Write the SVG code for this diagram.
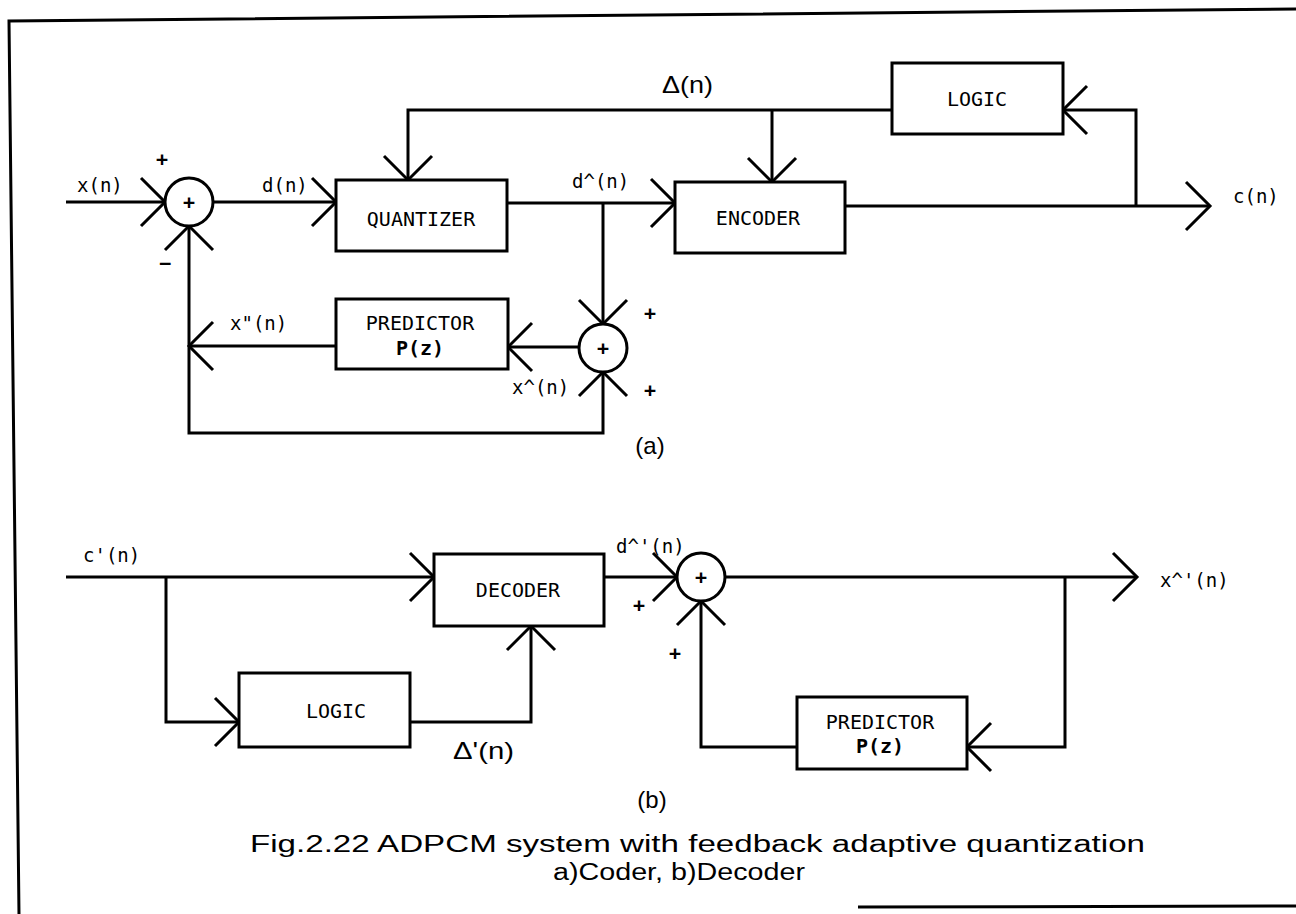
<svg xmlns="http://www.w3.org/2000/svg" width="1296" height="914" viewBox="0 0 1296 914">
<defs>
<marker id="arr" markerUnits="userSpaceOnUse" markerWidth="60" markerHeight="60" viewBox="-30 -30 60 60" refX="0" refY="0" orient="auto" overflow="visible">
<path d="M-24,-24 L0,0 L-24,24" fill="none" stroke="#000" stroke-width="3"/>
</marker>
<style>
.ln{fill:none;stroke:#000;stroke-width:3;marker-end:url(#arr)}
.pl{fill:none;stroke:#000;stroke-width:3}
.box{fill:#fff;stroke:#000;stroke-width:3}
.bl{font-family:"DejaVu Sans Mono","Liberation Mono",monospace;font-size:20px;text-anchor:middle;fill:#000}
.pz{font-family:"DejaVu Sans Mono","Liberation Mono",monospace;font-size:20px;font-weight:bold;text-anchor:middle;fill:#000}
.sl{font-family:"DejaVu Sans Mono","Liberation Mono",monospace;font-size:19px;fill:#000}
.sg{font-family:"DejaVu Sans Mono","Liberation Mono",monospace;font-size:20px;font-weight:bold;text-anchor:middle;fill:#000}
.gk{font-family:"Liberation Sans",Arial,sans-serif;font-size:24px;fill:#000}
.cap{font-family:"Liberation Sans",Arial,sans-serif;font-size:23px;fill:#000}
</style>
</defs>
<rect width="1296" height="914" fill="#fff"/>
<g id="frame">
<path class="pl" d="M1296,9 L9,21 L19,914"/>
<path class="pl" d="M858,907 L1296,906" stroke-width="2"/>
</g>
<g id="connectors">
<path class="ln" d="M66,202 H165"/>
<path class="ln" d="M213,202 H336"/>
<path class="ln" d="M507,203 H675"/>
<path class="ln" d="M603,203 V324"/>
<path class="ln" d="M845,206 H1210"/>
<path class="ln" d="M1136,206 V110 H1063"/>
<path class="ln" d="M892,110 H408 V180"/>
<path class="ln" d="M772,110 V182"/>
<path class="ln" d="M579,347 H508"/>
<path class="ln" d="M336,346 H189"/>
<path class="ln" d="M189,346 V226"/>
<path class="ln" d="M189,346 V433 H603 V372"/>
<path class="ln" d="M66,577 H434"/>
<path class="ln" d="M166,577 V722 H239"/>
<path class="ln" d="M410,722 H531 V626"/>
<path class="ln" d="M604,577 H677"/>
<path class="ln" d="M725,577 H1137"/>
<path class="ln" d="M1065,577 V747 H967"/>
<path class="ln" d="M797,747 H701 V601"/>
</g>
<g id="sum1">
<circle cx="189" cy="202" r="24" class="box"/>
<text class="sg" x="189" y="209">+</text>
</g>
<g id="sum2">
<circle cx="603" cy="348" r="24" class="box"/>
<text class="sg" x="603" y="355">+</text>
</g>
<g id="sum3">
<circle cx="701" cy="577" r="24" class="box"/>
<text class="sg" x="701" y="584">+</text>
</g>
<g id="quantizer">
<rect x="336" y="180" width="171" height="71" class="box"/>
<text class="bl" x="421" y="226">QUANTIZER</text>
</g>
<g id="encoder">
<rect x="675" y="182" width="170" height="71" class="box"/>
<text class="bl" x="758" y="225">ENCODER</text>
</g>
<g id="logic-a">
<rect x="892" y="63" width="171" height="71" class="box"/>
<text class="bl" x="977" y="106">LOGIC</text>
</g>
<g id="predictor-a">
<rect x="336" y="299" width="172" height="70" class="box"/>
<text class="bl" x="420" y="330">PREDICTOR</text>
<text class="pz" x="420" y="355">P(z)</text>
</g>
<g id="decoder">
<rect x="434" y="554" width="170" height="72" class="box"/>
<text class="bl" x="518" y="597">DECODER</text>
</g>
<g id="logic-b">
<rect x="239" y="673" width="171" height="74" class="box"/>
<text class="bl" x="336" y="718">LOGIC</text>
</g>
<g id="predictor-b">
<rect x="797" y="697" width="170" height="72" class="box"/>
<text class="bl" x="880" y="729">PREDICTOR</text>
<text class="pz" x="880" y="753">P(z)</text>
</g>
<g id="labels">
<text class="sl" x="77" y="192">x(n)</text>
<text class="sl" x="262" y="192">d(n)</text>
<text class="sl" x="572" y="188">d^(n)</text>
<text class="sl" x="1233" y="203">c(n)</text>
<text class="sl" x="230" y="330">x"(n)</text>
<text class="sl" x="512" y="394">x^(n)</text>
<text class="sl" x="83" y="562">c'(n)</text>
<text class="sl" x="616" y="553">d^'(n)</text>
<text class="sl" x="1160" y="587">x^'(n)</text>
<text class="gk" x="662" y="93" textLength="51" lengthAdjust="spacingAndGlyphs">Δ(n)</text>
<text class="gk" x="453" y="759" textLength="61" lengthAdjust="spacingAndGlyphs">Δ'(n)</text>
<text class="sg" x="162" y="166">+</text>
<text class="sg" x="165" y="270">−</text>
<text class="sg" x="650" y="320">+</text>
<text class="sg" x="650" y="397">+</text>
<text class="sg" x="639" y="612">+</text>
<text class="sg" x="675" y="660">+</text>
<text class="gk" x="650" y="454" text-anchor="middle" font-size="22">(a)</text>
<text class="gk" x="652" y="808" text-anchor="middle" font-size="22">(b)</text>
</g>
<g id="caption">
<text class="cap" x="250" y="852" textLength="895" lengthAdjust="spacingAndGlyphs">Fig.2.22 ADPCM system with feedback adaptive quantization</text>
<text class="cap" x="553" y="880" textLength="252" lengthAdjust="spacingAndGlyphs">a)Coder, b)Decoder</text>
</g>
</svg>
